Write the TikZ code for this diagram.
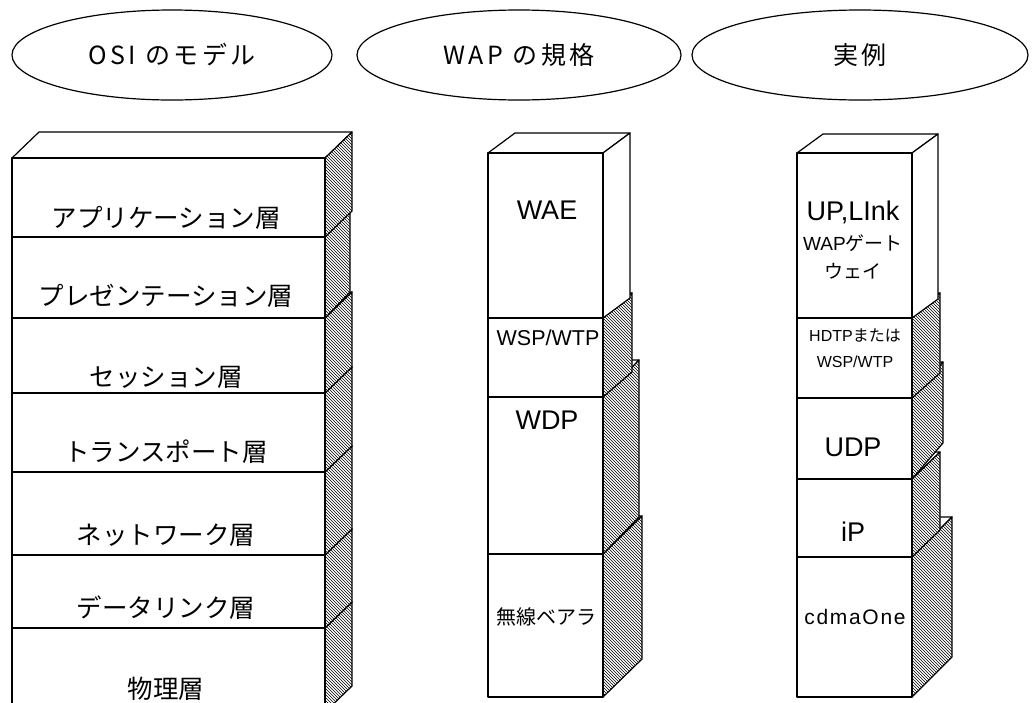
\documentclass[tikz,border=0pt]{standalone}
\usepackage{fontspec}
\setmainfont{Liberation Sans}
\newfontfamily\jp{Noto Sans CJK JP}
\newfontfamily\jpt[LetterSpace=14]{Noto Sans CJK JP}
\newfontfamily\latsp[LetterSpace=8]{Liberation Sans}
\usetikzlibrary{patterns,shapes.geometric}
\tikzset{
  box/.style={draw=black,line width=1.2pt,line join=round},
  hatch/.style={preaction={fill=white},pattern=north west lines,pattern color=black},
  plain/.style={fill=white},
  title/.style={draw=black,line width=1.2pt,ellipse,minimum width=#1,minimum height=90pt,inner sep=0pt},
  osi/.style={font=\jp\fontsize{25.5}{28}\selectfont,inner sep=0pt},
  wap/.style={inner sep=0pt,align=center}
}
% x1, x2, ytop, ybot, dx, dy, side style
\newcommand\layerbox[7]{%
  \draw[box,fill=white] (#1,#3) -- (#2,#3) -- ({#2+#5},{#3-#6}) -- ({#1+#5},{#3-#6}) -- cycle;
  \draw[box,#7] (#2,#3) -- ({#2+#5},{#3-#6}) -- ({#2+#5},{#4-#6}) -- (#2,#4) -- cycle;
  \draw[box,fill=white] (#1,#3) rectangle (#2,#4);
}
\begin{document}
\begin{tikzpicture}[x=1pt,y=-1pt]
\useasboundingbox[fill=white] (0,0) rectangle (1032,702);
\begin{scope}
\clip (0,0) rectangle (1032,702);

% titles
\node[title=320pt] (t1) at (172,55) {\jpt\fontsize{25}{28}\selectfont OSI のモデル};
\node[title=324pt] (t2) at (519,55) {\jpt\fontsize{25}{28}\selectfont WAP の規格};
\node[title=336pt] (t3) at (860,55) {\jpt\fontsize{25}{28}\selectfont 実例};

% OSI stack (bottom to top)
\layerbox{12}{325}{628}{712}{27}{26}{hatch}
\layerbox{12}{325}{555}{628}{27}{26}{hatch}
\layerbox{12}{325}{472}{555}{27}{26}{hatch}
\layerbox{12}{325}{393}{472}{27}{26}{hatch}
\layerbox{12}{325}{318}{393}{27}{26}{hatch}
\layerbox{12}{325}{237}{318}{25}{26}{hatch}
\layerbox{12}{325}{158}{237}{27}{26}{hatch}

\node[osi] (o1) at (166,218) {アプリケーション層};
\node[osi] (o2) at (166,296) {プレゼンテーション層};
\node[osi] (o3) at (166,377) {セッション層};
\node[osi] (o4) at (166,452) {トランスポート層};
\node[osi] (o5) at (166,535) {ネットワーク層};
\node[osi] (o6) at (166,608) {データリンク層};
\node[osi] (o7) at (166,689) {物理層};

% WAP stack
\layerbox{488}{603}{554}{697}{39}{38}{hatch}
\layerbox{488}{603}{397}{554}{36}{37}{hatch}
\layerbox{488}{603}{318}{397}{29}{25}{hatch}
\layerbox{488}{603}{153}{318}{27}{20}{plain}

\node[wap,font=\fontsize{27}{30}\selectfont] (w1) at (547,210) {WAE};
\node[wap,font=\fontsize{21.5}{24}\selectfont] (w2) at (548,338) {WSP/WTP};
\node[wap,font=\fontsize{27}{30}\selectfont] (w3) at (547,420) {WDP};
\node[wap,font=\jp\fontsize{20}{24}\selectfont] (w4) at (546,617) {無線ベアラ};

% example stack
\layerbox{797}{912}{557}{697}{40}{40}{hatch}
\layerbox{797}{912}{479}{557}{28}{27}{hatch}
\layerbox{797}{912}{398}{479}{31}{36}{hatch}
\layerbox{797}{912}{318}{398}{28}{25}{hatch}
\layerbox{797}{912}{153}{318}{26}{19}{plain}

\node[wap,font=\fontsize{27}{30}\selectfont] (e1) at (853,212) {UP,LInk};
\node[wap,font=\fontsize{19}{22}\selectfont] (e2) at (853,243) {WAP{\jp ゲート}};
\node[wap,font=\jp\fontsize{19}{22}\selectfont] (e3) at (853,271) {ウェイ};
\node[wap,font=\fontsize{16}{20}\selectfont] (e4) at (855,335) {HDTP{\jp または}};
\node[wap,font=\fontsize{16}{20}\selectfont] (e5) at (855,362) {WSP/WTP};
\node[wap,font=\fontsize{27}{30}\selectfont] (e6) at (853,447) {UDP};
\node[wap,font=\fontsize{27}{30}\selectfont] (e7) at (853,532) {iP};
\node[wap,font=\latsp\fontsize{21}{24}\selectfont] (e8) at (855,617) {cdmaOne};
\end{scope}
\end{tikzpicture}
\end{document}
